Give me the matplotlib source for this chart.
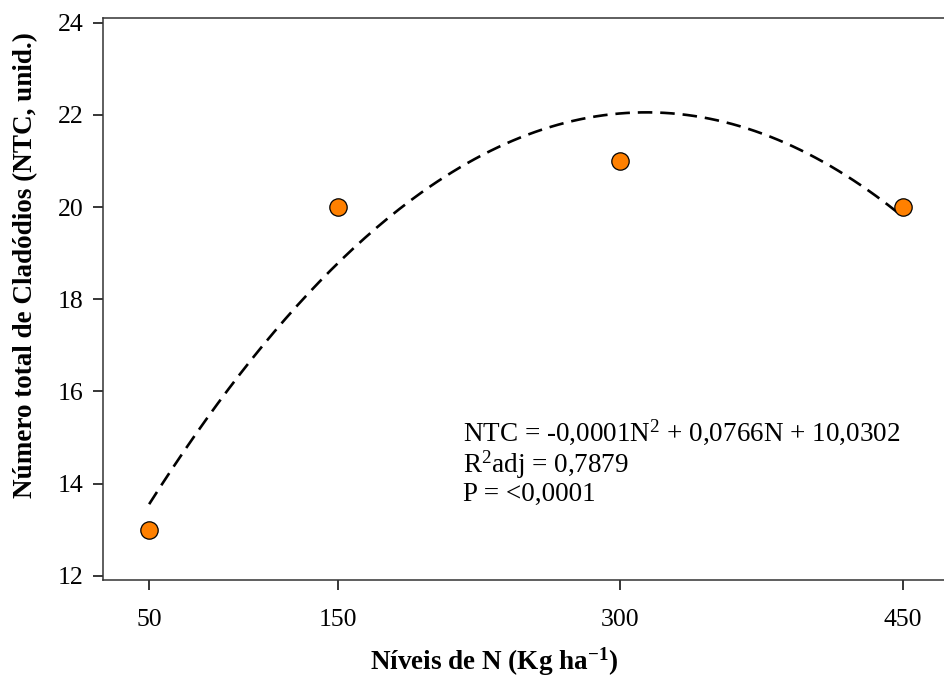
import numpy as np
import matplotlib
matplotlib.use('Agg')
import matplotlib.pyplot as plt

# dados observados
niveis_n = [50, 150, 300, 450]
ntc = [13, 20, 21, 20]

# coeficientes da regressão quadrática (curva ajustada)
coef_a = -0.000122
coef_b = 0.0766
coef_c = 10.0302

x_ticks = [50, 150, 300, 450]
y_ticks = [12, 14, 16, 18, 20, 22, 24]

plt.rcParams['font.family'] = ['Liberation Serif', 'DejaVu Serif']
plt.rcParams['mathtext.fontset'] = 'custom'
plt.rcParams['mathtext.rm'] = 'Liberation Serif'
plt.rcParams['mathtext.bf'] = 'Liberation Serif:bold'
plt.rcParams['mathtext.default'] = 'regular'

fig = plt.figure(figsize=(9.44, 6.8), dpi=100)
ax = fig.add_axes([0.1091, 0.147, 0.895, 0.8265])

# curva ajustada
n_curva = np.linspace(min(niveis_n), max(niveis_n), 200)
y_curva = coef_a * n_curva ** 2 + coef_b * n_curva + coef_c
ax.plot(n_curva, y_curva, color='black', linestyle='--', linewidth=1.9, dashes=(5.5, 3))

# pontos
ax.plot(niveis_n, ntc, 'o', color='#FF8000', markeredgecolor='black',
        markeredgewidth=0.9, markersize=12.5, zorder=3)

ax.set_xlim(25.5, 474)
ax.set_ylim(11.91, 24.1)
ax.set_xticks(x_ticks)
ax.set_yticks(y_ticks)
ax.tick_params(direction='out', length=7, width=1.1, labelsize=18.5, colors='black', pad=7)
ax.tick_params(axis='x', pad=14)
for s in ax.spines.values():
    s.set_linewidth(1.1)
    s.set_color('#333333')

# equação
ax.text(0.426, 0.29, 'NTC = -0,0001N$^{2}$ + 0,0766N + 10,0302\n'
        'R$^{2}$adj = 0,7879\nP = <0,0001',
        transform=ax.transAxes, fontsize=19.5, va='top', ha='left', linespacing=1.07)

fig.text(0.523, 0.027, 'Níveis de N (Kg ha$^{-1}$)', fontsize=19.5, fontweight='bold',
         ha='center', va='center')
fig.text(0.027, 0.61, 'Número total de Cladódios (NTC, unid.)', fontsize=19.5,
         fontweight='bold', rotation=90, ha='center', va='center')

fig.savefig('out.png', dpi=100)
